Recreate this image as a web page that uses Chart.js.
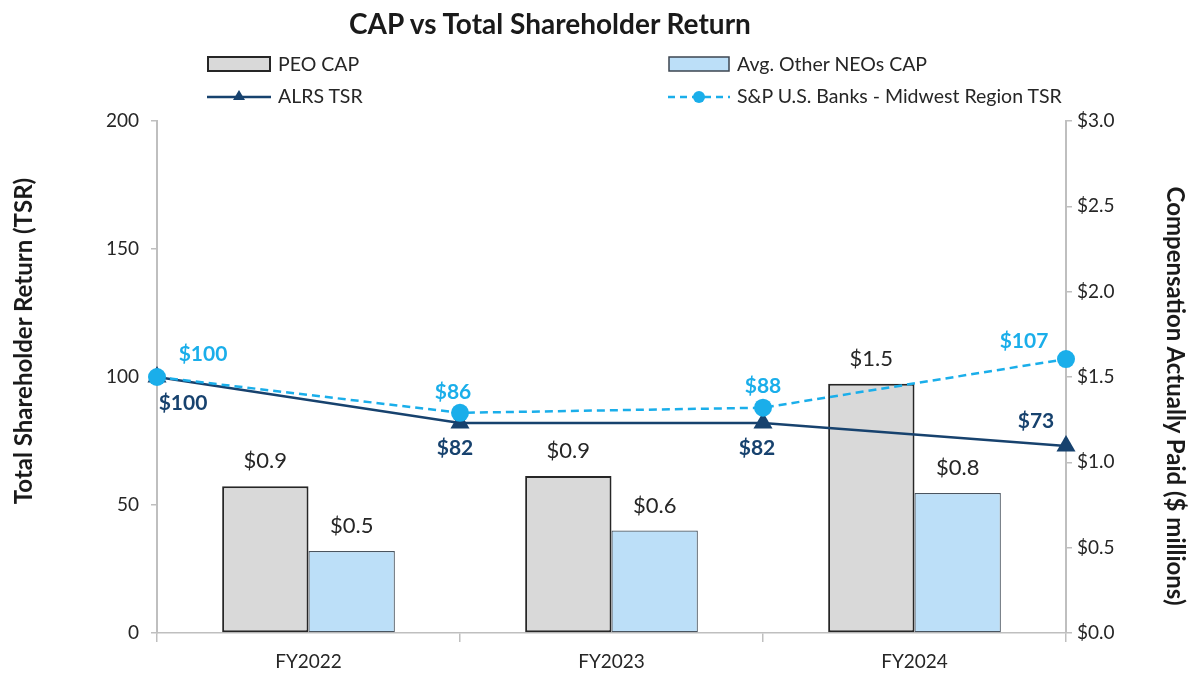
<!DOCTYPE html>
<html>
<head>
<meta charset="utf-8">
<script src="https://cdn.jsdelivr.net/npm/chart.js@4.4.0/dist/chart.umd.min.js"></script>
<style>
  html, body { margin: 0; padding: 0; background: #fff; }
  #wrap { position: relative; width: 1189px; height: 677px; font-family: Lato, "Open Sans", sans-serif; color: #262626; overflow: hidden; }
  #c { position: absolute; left: 0; top: 0; }
  .title { position: absolute; left: 0; width: 1100px; top: 6px; text-align: center; font-size: 28px; font-weight: bold; color: #1a1a1a; }
  .leg { position: absolute; display: flex; align-items: center; font-size: 19.5px; color: #262626; white-space: nowrap; }
  .leg svg { margin-right: 7px; }
  .ytitle { position: absolute; width: 600px; height: 30px; line-height: 30px; text-align: center; font-size: 24px; font-weight: bold; color: #1a1a1a; white-space: nowrap; }
</style>
</head>
<body>
<div id="wrap">
  <canvas id="c" width="1189" height="677"></canvas>
  <div class="title">CAP vs Total Shareholder Return</div>
  <div class="leg" style="left:207px; top:52px;">
    <svg width="64" height="16"><rect x="1" y="1" width="62" height="14" fill="#d9d9d9" stroke="#262626" stroke-width="2"/></svg>PEO CAP
  </div>
  <div class="leg" style="left:207px; top:84px;">
    <svg width="64" height="22"><line x1="0" y1="12" x2="64" y2="12" stroke="#17426e" stroke-width="2.5"/><polygon points="32,5 38,15 26,15" fill="#17426e"/></svg>ALRS TSR
  </div>
  <div class="leg" style="left:668px; top:52px;">
    <svg width="62" height="16"><rect x="1" y="1" width="60" height="14" fill="#bcdff8" stroke="#3d4650" stroke-width="1.5"/></svg>Avg. Other NEOs CAP
  </div>
  <div class="leg" style="left:668px; top:84px;">
    <svg width="62" height="22"><line x1="0" y1="12" x2="62" y2="12" stroke="#1aaeea" stroke-width="2.5" stroke-dasharray="7,5"/><circle cx="31" cy="12" r="6" fill="#1aaeea"/></svg>S&amp;P U.S. Banks - Midwest Region TSR
  </div>
  <div class="ytitle" style="left:-277px; top:326px; transform: rotate(-90deg);">Total Shareholder Return (TSR)</div>
  <div class="ytitle" style="left:876px; top:381px; transform: rotate(90deg);">Compensation Actually Paid ($ millions)</div>
</div>
<script>
// ---- data ----
const categories = ["FY2022", "FY2023", "FY2024"];
const peoCap = [0.86, 0.92, 1.46];          // $ millions
const neoCap = [0.48, 0.60, 0.82];          // $ millions
const peoCapLabels = ["$0.9", "$0.9", "$1.5"];
const neoCapLabels = ["$0.5", "$0.6", "$0.8"];
const tsrPoints = [0, 1, 2, 3];             // period boundaries: start, end FY2022, FY2023, FY2024
const alrsTsr = [100, 82, 82, 73];
const spTsr = [100, 86, 88, 107];
const tsrTicks = [0, 50, 100, 150, 200];
const capTicks = [0, 0.5, 1.0, 1.5, 2.0, 2.5, 3.0];

// category i occupies the period between boundaries i and i+1
const catMid = categories.map((c, i) => (tsrPoints[i] + tsrPoints[i + 1]) / 2);

const NAVY = "#17426e", SKY = "#1aaeea", GRID = "#bfbfbf";
const FONT = "Lato, 'Open Sans', sans-serif";

// label offsets (styling) per dataset index
const labelStyle = {
  0: { texts: peoCapLabels, font: "22px " + FONT, color: "#262626", off: [[0,-25],[0,-25],[0,-25]] },
  1: { texts: neoCapLabels, font: "22px " + FONT, color: "#262626", off: [[0,-25],[0,-25],[0,-25]] },
  2: { texts: alrsTsr.map(v => "$" + v), font: "bold 21px " + FONT, color: NAVY, off: [[26,26],[-5,25],[-6,25],[-30,-25]] },
  3: { texts: spTsr.map(v => "$" + v), font: "bold 21px " + FONT, color: SKY, off: [[46,-23],[-7,-21],[0,-21],[-42,-18]] }
};

const labelPlugin = {
  id: "valueLabels",
  afterDatasetsDraw(chart) {
    const ctx = chart.ctx;
    ctx.save();
    ctx.textAlign = "center";
    ctx.textBaseline = "middle";
    chart.data.datasets.forEach((ds, di) => {
      const st = labelStyle[di];
      if (!st) return;
      const meta = chart.getDatasetMeta(di);
      meta.data.forEach((el, i) => {
        ctx.font = st.font;
        ctx.fillStyle = st.color;
        ctx.fillText(st.texts[i], el.x + st.off[i][0], el.y + st.off[i][1]);
      });
    });
    ctx.restore();
  }
};

const chart = new Chart(document.getElementById("c"), {
  type: "bar",
  data: {
    datasets: [
      { type: "bar", label: "PEO CAP", data: peoCap.map((v, i) => ({ x: catMid[i], y: v })), yAxisID: "y1", xAxisID: "x",
        backgroundColor: "#d9d9d9", borderColor: "#262626", borderWidth: 2, borderSkipped: false,
        categoryPercentage: 0.57, barPercentage: 1.0, order: 3 },
      { type: "bar", label: "Avg. Other NEOs CAP", data: neoCap.map((v, i) => ({ x: catMid[i], y: v })), yAxisID: "y1", xAxisID: "x",
        backgroundColor: "#bcdff8", borderColor: "#4a5560", borderWidth: 1.2, borderSkipped: false,
        categoryPercentage: 0.57, barPercentage: 1.0, order: 3 },
      { type: "line", label: "ALRS TSR", data: tsrPoints.map((x, i) => ({ x: x, y: alrsTsr[i] })),
        xAxisID: "x", yAxisID: "y", borderColor: NAVY, backgroundColor: NAVY, borderWidth: 2.5,
        pointStyle: "triangle", pointRadius: 11, pointBackgroundColor: NAVY, pointBorderWidth: 0,
        clip: false, order: 2 },
      { type: "line", label: "S&P U.S. Banks - Midwest Region TSR", data: tsrPoints.map((x, i) => ({ x: x, y: spTsr[i] })),
        xAxisID: "x", yAxisID: "y", borderColor: SKY, backgroundColor: SKY, borderWidth: 2.5, borderDash: [8, 5],
        pointStyle: "circle", pointRadius: 9, pointBackgroundColor: SKY, pointBorderWidth: 0,
        clip: false, order: 1 }
    ]
  },
  options: {
    indexAxis: "x",
    responsive: false,
    animation: false,
    layout: { padding: { top: 121, left: 0, right: 0, bottom: 0 } },
    plugins: { legend: { display: false }, title: { display: false }, tooltip: { enabled: false } },
    scales: {
      x: {
        type: "linear", position: "bottom", offset: false,
        min: tsrPoints[0], max: tsrPoints[tsrPoints.length - 1],
        afterBuildTicks: s => { s.ticks = catMid.map(v => ({ value: v })); },
        grid: { offset: true, drawOnChartArea: false, drawTicks: true, tickLength: 9, color: GRID, lineWidth: 1.5 },
        border: { display: true, color: GRID, width: 1.5 },
        ticks: { color: "#262626", font: { family: FONT, size: 19 }, padding: 8, maxRotation: 0, autoSkip: false,
                 callback: (v, i) => categories[i] },
        afterFit: s => { s.height = 44; }
      },
      y: {
        type: "linear", position: "left", min: 0, max: 200,
        afterBuildTicks: s => { s.ticks = tsrTicks.map(v => ({ value: v })); },
        grid: { drawOnChartArea: false, drawTicks: true, tickLength: 6, color: GRID, lineWidth: 1.5 },
        border: { display: true, color: GRID, width: 2 },
        ticks: { color: "#262626", font: { family: FONT, size: 19 }, padding: 12 },
        afterFit: s => { s.width = 157; }
      },
      y1: {
        type: "linear", position: "right", min: 0, max: 3,
        afterBuildTicks: s => { s.ticks = capTicks.map(v => ({ value: v })); },
        grid: { drawOnChartArea: false, drawTicks: true, tickLength: 6, color: GRID, lineWidth: 1.5 },
        border: { display: true, color: GRID, width: 2 },
        ticks: { color: "#262626", font: { family: FONT, size: 19 }, padding: 5,
                 callback: v => "$" + Number(v).toFixed(1) },
        afterFit: s => { s.width = 123; }
      }
    }
  },
  plugins: [labelPlugin]
});
</script>
</body>
</html>
